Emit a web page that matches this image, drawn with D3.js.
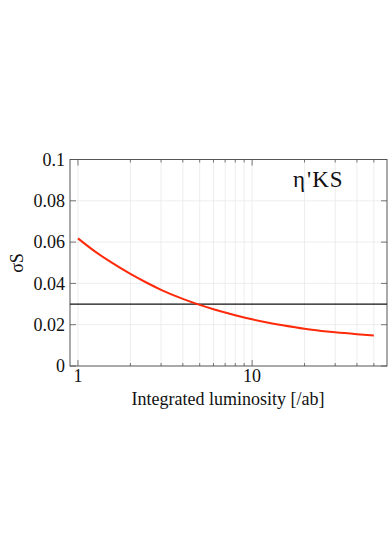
<!DOCTYPE html>
<html>
<head>
<meta charset="utf-8">
<script src="https://cdn.jsdelivr.net/npm/d3@7"></script>
<style>
  body { margin: 0; background: #fff; }
</style>
</head>
<body>
<svg id="chart" width="392" height="555"></svg>
<script>
// Curve
const lumi = [1, 1.25, 1.5, 2, 2.5, 3, 4, 5, 6, 7, 8, 10, 12, 15, 20, 25, 30, 40, 50];
const sigmaS = [0.0618, 0.0555, 0.0510, 0.0446, 0.0402, 0.0369, 0.0325, 0.0296, 0.0275, 0.0259, 0.0246, 0.0226, 0.0212, 0.0197, 0.0180, 0.0170, 0.0163, 0.0154, 0.0148];
const target = 0.03;
const yTicks = [0, 0.02, 0.04, 0.06, 0.08, 0.1];
const yTickLabels = ["0", "0.02", "0.04", "0.06", "0.08", "0.1"];
const xTicks = [1, 10];
const xMinor = [2, 3, 4, 5, 6, 7, 8, 9, 20, 30, 40, 50];

const FONT = "'Liberation Serif', 'Times New Roman', Times, 'DejaVu Serif', serif";
const svg = d3.select("#chart");
const plot = { left: 70, right: 387, top: 159.5, bottom: 366 };

const x = d3.scaleLog().domain([0.9, 59.5]).range([plot.left, plot.right]);
const y = d3.scaleLinear().domain([0, 0.1]).range([plot.bottom, plot.top]);

// grid
const grid = svg.append("g").attr("stroke", "#e8e8e8").attr("stroke-width", 0.8);
grid.selectAll(".vg").data(xTicks.concat(xMinor)).enter().append("line")
    .attr("x1", d => x(d)).attr("x2", d => x(d))
    .attr("y1", plot.top).attr("y2", plot.bottom);
grid.selectAll(".hg").data(yTicks.slice(1, -1)).enter().append("line")
    .attr("x1", plot.left).attr("x2", plot.right)
    .attr("y1", d => y(d)).attr("y2", d => y(d));

// ticks (inward) on all four sides
const ticks = svg.append("g").attr("stroke", "#555").attr("stroke-width", 0.8);
xTicks.forEach(d => {
    ticks.append("line").attr("x1", x(d)).attr("x2", x(d)).attr("y1", plot.bottom).attr("y2", plot.bottom - 6);
    ticks.append("line").attr("x1", x(d)).attr("x2", x(d)).attr("y1", plot.top).attr("y2", plot.top + 6);
});
xMinor.forEach(d => {
    ticks.append("line").attr("x1", x(d)).attr("x2", x(d)).attr("y1", plot.bottom).attr("y2", plot.bottom - 3);
    ticks.append("line").attr("x1", x(d)).attr("x2", x(d)).attr("y1", plot.top).attr("y2", plot.top + 3);
});
yTicks.forEach(d => {
    ticks.append("line").attr("x1", plot.left).attr("x2", plot.left + 6).attr("y1", y(d)).attr("y2", y(d));
    ticks.append("line").attr("x1", plot.right).attr("x2", plot.right - 6).attr("y1", y(d)).attr("y2", y(d));
});

// frame
svg.append("rect")
    .attr("x", plot.left).attr("y", plot.top)
    .attr("width", plot.right - plot.left).attr("height", plot.bottom - plot.top)
    .attr("fill", "none").attr("stroke", "#555").attr("stroke-width", 1);

// target line
svg.append("line")
    .attr("x1", plot.left).attr("x2", plot.right)
    .attr("y1", y(target)).attr("y2", y(target))
    .attr("stroke", "#111").attr("stroke-width", 1.2);

// curve
const line = d3.line().x((d, i) => x(lumi[i])).y(d => y(d)).curve(d3.curveMonotoneX);
svg.append("path").datum(sigmaS)
    .attr("d", line)
    .attr("fill", "none").attr("stroke", "#ff2a0a").attr("stroke-width", 2);

// tick labels
svg.selectAll(".yl").data(yTicks).enter().append("text")
    .attr("x", 65).attr("y", d => y(d)).attr("dy", "0.35em")
    .attr("text-anchor", "end").attr("font-size", 18)
    .attr("font-family", FONT).attr("fill", "#111")
    .text((d, i) => yTickLabels[i]);
svg.selectAll(".xl").data(xTicks).enter().append("text")
    .attr("x", d => x(d)).attr("y", plot.bottom + 16)
    .attr("text-anchor", "middle").attr("font-size", 18)
    .attr("font-family", FONT).attr("fill", "#111")
    .text(d => d);

// axis titles
svg.append("text")
    .attr("x", 228).attr("y", 405)
    .attr("text-anchor", "middle").attr("font-size", 18)
    .attr("font-family", FONT).attr("fill", "#111")
    .text("Integrated luminosity [/ab]");
svg.append("text")
    .attr("transform", "translate(23,263) rotate(-90)")
    .attr("text-anchor", "middle").attr("font-size", 18)
    .attr("font-family", FONT).attr("fill", "#111")
    .text("σS");
const title = svg.append("text")
    .attr("x", 293).attr("y", 187)
    .attr("font-size", 23)
    .attr("font-family", FONT).attr("fill", "#111");
title.append("tspan").text("η");
title.append("tspan").attr("dx", 2).attr("letter-spacing", 1).text("'KS");
</script>
</body>
</html>
